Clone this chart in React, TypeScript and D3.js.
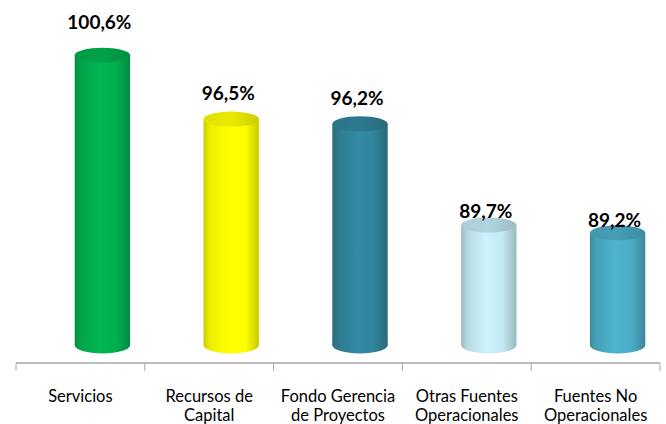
import * as d3 from "d3";
import { useEffect, useRef } from "react";

const categories = [
  "Servicios",
  "Recursos de Capital",
  "Fondo Gerencia de Proyectos",
  "Otras Fuentes Operacionales",
  "Fuentes No Operacionales",
];
const labelLines = [
  ["Servicios"],
  ["Recursos de", "Capital"],
  ["Fondo Gerencia", "de Proyectos"],
  ["Otras Fuentes", "Operacionales"],
  ["Fuentes No", "Operacionales"],
];
const values = [100.6, 96.5, 96.2, 89.7, 89.2];
const valueLabels = ["100,6%", "96,5%", "96,2%", "89,7%", "89,2%"];
const colors = ["#00b050", "#ffff00", "#31849b", "#c3e9f2", "#4bacc6"];

const App = () => {
  const ref = useRef<SVGSVGElement>(null);

  useEffect(() => {
    const svg = d3.select(ref.current);
    svg.selectAll("*").remove();
    const width = 666;
    const height = 424;
    const axisY = 363;
    const depth = 22;

    const x = d3.scaleBand().domain(categories).range([16, 660]).padding(0);
    const y = d3.scaleLinear().domain([82, 101]).range([345, 49]);
    // labels sit a bit off the 3D top, closer with lower bars
    const yLabel = d3.scaleLinear().domain([89.2, 100.6]).range([227, 29]);

    const bw = x.bandwidth() * 0.43;
    const rx = bw / 2;
    const ry = 7.5;

    svg.attr("viewBox", [0, 0, width, height]).attr("width", width).attr("height", height);

    const defs = svg.append("defs");
    colors.forEach((c, i) => {
      const base = d3.color(c)!;
      const side = defs
        .append("linearGradient")
        .attr("id", `side${i}`)
        .attr("x1", 0)
        .attr("x2", 1)
        .attr("y1", 0)
        .attr("y2", 0);
      side.append("stop").attr("offset", 0).attr("stop-color", base.darker(0.6).formatHex());
      side.append("stop").attr("offset", 0.12).attr("stop-color", base.darker(0.2).formatHex());
      side.append("stop").attr("offset", 0.45).attr("stop-color", base.brighter(0.12).formatHex());
      side.append("stop").attr("offset", 0.75).attr("stop-color", base.formatHex());
      side.append("stop").attr("offset", 1).attr("stop-color", base.darker(0.65).formatHex());

      const top = defs
        .append("linearGradient")
        .attr("id", `top${i}`)
        .attr("x1", 0)
        .attr("x2", 1)
        .attr("y1", 0)
        .attr("y2", 0);
      top.append("stop").attr("offset", 0).attr("stop-color", base.darker(0.35).formatHex());
      top.append("stop").attr("offset", 0.5).attr("stop-color", base.darker(0.25).formatHex());
      top.append("stop").attr("offset", 1).attr("stop-color", base.darker(0.6).formatHex());
    });

    const cx = (d: string) => x(d)! + x.bandwidth() / 2 + depth;

    const bars = svg
      .append("g")
      .selectAll("g")
      .data(categories)
      .join("g");

    // body
    bars
      .append("rect")
      .attr("x", (d) => cx(d) - rx)
      .attr("y", (d, i) => y(values[i]))
      .attr("width", bw)
      .attr("height", (d, i) => y(82) - y(values[i]))
      .attr("fill", (d, i) => `url(#side${i})`);

    // bottom cap
    bars
      .append("ellipse")
      .attr("cx", (d) => cx(d))
      .attr("cy", y(82))
      .attr("rx", rx)
      .attr("ry", ry + 1)
      .attr("fill", (d, i) => `url(#side${i})`);

    // top cap
    bars
      .append("ellipse")
      .attr("cx", (d) => cx(d))
      .attr("cy", (d, i) => y(values[i]))
      .attr("rx", rx)
      .attr("ry", ry)
      .attr("fill", (d, i) => `url(#top${i})`);

    // value labels
    svg
      .append("g")
      .selectAll("text")
      .data(categories)
      .join("text")
      .attr("x", (d) => cx(d) - 3)
      .attr("y", (d, i) => yLabel(values[i]))
      .attr("text-anchor", "middle")
      .style("font-family", "Lato, 'Open Sans', sans-serif")
      .style("font-weight", "bold")
      .style("font-size", "19px")
      .attr("fill", "#000")
      .text((d, i) => valueLabels[i]);

    // axis line and ticks at band edges
    const axis = svg.append("g").attr("stroke", "#a6a6a6");
    axis
      .append("line")
      .attr("x1", x.range()[0])
      .attr("x2", x.range()[1])
      .attr("y1", axisY)
      .attr("y2", axisY)
      .attr("stroke-width", 1.5);
    axis
      .selectAll("line.tick")
      .data([...categories.map((c) => x(c)!), x.range()[1]])
      .join("line")
      .attr("class", "tick")
      .attr("x1", (d) => d)
      .attr("x2", (d) => d)
      .attr("y1", axisY)
      .attr("y2", axisY + 8)
      .attr("stroke-width", 1);

    // category labels
    svg
      .append("g")
      .selectAll("text")
      .data(categories)
      .join("text")
      .attr("x", (d) => x(d)! + x.bandwidth() / 2)
      .attr("y", 402)
      .attr("text-anchor", "middle")
      .style("font-family", "Lato, 'Open Sans', sans-serif")
      .style("font-size", "16.5px")
      .attr("fill", "#000")
      .each(function (d, i) {
        d3.select(this)
          .selectAll("tspan")
          .data(labelLines[i])
          .join("tspan")
          .attr("x", x(d)! + x.bandwidth() / 2)
          .attr("dy", (l, j) => (j === 0 ? 0 : 18.5))
          .text((l) => l);
      });
  }, []);

  return <svg ref={ref} style={{ position: "absolute", left: 0, top: 0, background: "#fff" }} />;
};

export default App;
